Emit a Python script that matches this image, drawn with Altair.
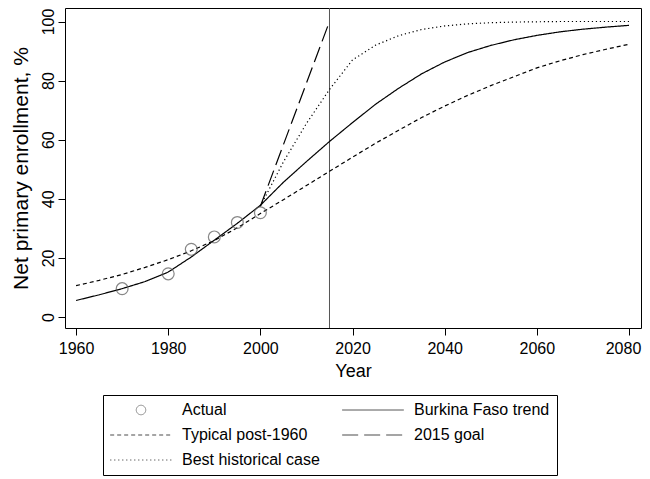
import altair as alt
import pandas as pd

# ---- data ----
years_trend = [1960, 1965, 1970, 1975, 1980, 1985, 1990, 1995, 2000, 2005, 2010, 2015,
               2020, 2025, 2030, 2035, 2040, 2045, 2050, 2055, 2060, 2065, 2070, 2075, 2080]
burkina = [5.6, 7.5, 9.6, 12.0, 15.2, 20.3, 26.0, 31.7, 37.8, 45.6, 52.6, 59.4,
           65.8, 72.0, 77.4, 82.3, 86.3, 89.5, 91.9, 93.8, 95.3, 96.5, 97.4, 98.1, 98.7]
typical = [10.6, 12.4, 14.4, 16.8, 19.4, 22.4, 25.9, 30.2, 35.0, 39.7, 44.5, 49.3,
           54.1, 58.8, 63.2, 67.5, 71.4, 75.0, 78.3, 81.3, 84.3, 86.7, 88.8, 90.6, 92.3]
years_best = [2000, 2005, 2010, 2015, 2020, 2025, 2030, 2035, 2040, 2045, 2050, 2055,
              2060, 2065, 2070, 2075, 2080]
best = [37.5, 52.5, 65.5, 77.0, 87.0, 92.0, 95.2, 97.3, 98.5, 99.2, 99.6, 99.8,
        99.9, 100.0, 100.0, 100.0, 100.0]
years_goal = [2000, 2015]
goal = [37.5, 100.0]
years_actual = [1970, 1980, 1985, 1990, 1995, 2000]
actual = [9.6, 14.6, 22.9, 27.1, 32.0, 35.3]
goal_year = [2015]

series = ["Actual", "Burkina Faso trend", "Typical post-1960", "2015 goal", "Best historical case"]

# ---- tables ----
rows = []
for name, xs, ys in [("Burkina Faso trend", years_trend, burkina),
                     ("Typical post-1960", years_trend, typical),
                     ("2015 goal", years_goal, goal),
                     ("Best historical case", years_best, best)]:
    for xv, yv in zip(xs, ys):
        rows.append({"Year": xv, "Value": yv, "Series": name})
lines_df = pd.DataFrame(rows)
actual_df = pd.DataFrame({"Year": years_actual, "Value": actual, "Series": "Actual"})
rule_df = pd.DataFrame({"Year": goal_year})

FONT = "Liberation Sans"
LINE = "M-6.5,0H6.5"

color_scale = alt.Scale(domain=series, range=["#555555", "black", "black", "black", "black"])
dash_scale = alt.Scale(domain=series, range=[[1, 0], [1, 0], [4, 3], [16, 6], [1.2, 2.8]])
shape_scale = alt.Scale(domain=series, range=["circle", LINE, LINE, LINE, LINE])

leg = alt.Legend(title=None, orient="none", legendX=38, legendY=387, direction="horizontal",
                 columns=2)

x = alt.X("Year:Q", title="Year",
          scale=alt.Scale(domain=[1957.6, 2082.6], nice=False, zero=False),
          axis=alt.Axis(values=[1960, 1980, 2000, 2020, 2040, 2060, 2080], format="d",
                        labelPadding=5, titlePadding=6,
                        labelOffset={"condition": {"test": "datum.value === 2080", "value": -6},
                                     "value": 0}))
y = alt.Y("Value:Q", title="Net primary enrollment, %",
          scale=alt.Scale(domain=[-3.72, 104.57], nice=False, zero=False),
          axis=alt.Axis(values=[0, 20, 40, 60, 80, 100], labelAngle=-90, labelAlign="center",
                        labelBaseline="alphabetic", labelPadding=5, titlePadding=9,
                        titleFontSize=21))

lines = alt.Chart(lines_df).mark_line(strokeWidth=1.2).encode(
    x=x, y=y,
    color=alt.Color("Series:N", scale=color_scale, legend=leg),
    strokeDash=alt.StrokeDash("Series:N", scale=dash_scale, legend=leg),
)
points = alt.Chart(actual_df).mark_point(filled=False, size=140, strokeWidth=1.2).encode(
    x=x, y=y,
    color=alt.Color("Series:N", scale=color_scale, legend=leg),
    shape=alt.Shape("Series:N", scale=shape_scale, legend=leg),
)
rule = alt.Chart(rule_df).mark_rule(color="#555555", strokeWidth=1).encode(x="Year:Q")

chart = alt.layer(rule, lines, points).properties(
    width=576, height=320,
    autosize=alt.AutoSizeParams(type="none"),
    padding={"left": 57, "top": 0, "right": 1, "bottom": 151},
).configure_view(stroke="black", strokeWidth=1).configure_axis(
    grid=False, domain=False, tickSize=7, tickColor="black", tickWidth=1,
    labelFont=FONT, labelFontSize=16, labelColor="black",
    titleFont=FONT, titleFontSize=18, titleFontWeight="normal", titleColor="black",
).configure_legend(
    labelFont=FONT, labelFontSize=16, labelColor="black",
    symbolSize=90, symbolStrokeWidth=1, symbolFillColor="transparent",
    symbolOffset=23, labelOffset=33, columnPadding=20, rowPadding=9,
    padding=7, strokeColor="black",
)

chart.save("out.html", embed_options={"renderer": "svg", "actions": False})
